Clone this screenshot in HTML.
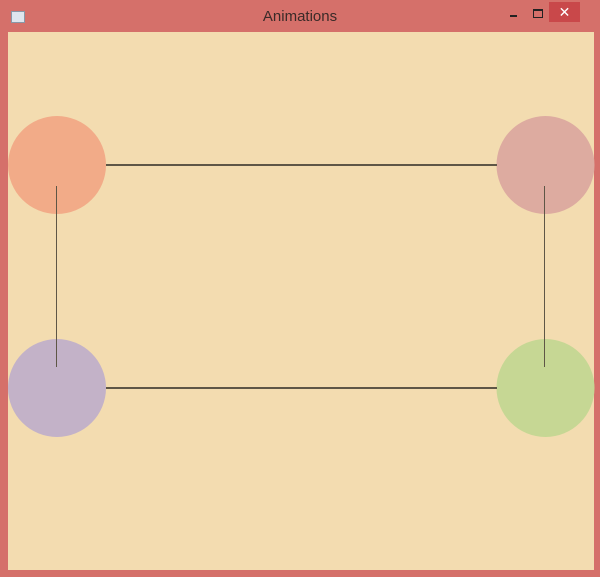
<!DOCTYPE html>
<html><head><style>
html,body{margin:0;padding:0;width:600px;height:577px;overflow:hidden;background:#d5706a;}
.t{position:absolute;left:0;top:0;width:600px;height:32px;text-align:center;font:15px "Liberation Sans",sans-serif;color:#3a2a28;line-height:34px;}
</style></head><body>
<div class="t">Animations</div>
<div style="position:absolute;left:11px;top:11px;width:12px;height:10px;background:#dfe6ee;border:1px solid #8898a8"></div>
<div style="position:absolute;left:510px;top:15px;width:7px;height:2px;background:#222"></div>
<div style="position:absolute;left:533px;top:9px;width:8px;height:6px;border:1px solid #222;border-top-width:2px"></div>
<div style="position:absolute;left:549px;top:2px;width:31px;height:20px;background:#c9484a;color:#fff;font:14px 'Liberation Sans',sans-serif;text-align:center;line-height:20px">✕</div>
<svg style="position:absolute;left:0;top:0" width="600" height="577">
<rect x="8" y="32" width="586" height="538" fill="#f3dcb0"/>
<circle cx="57" cy="165" r="49" fill="#f2ab88"/>
<circle cx="545.5" cy="165" r="49" fill="#ddaba0"/>
<circle cx="57" cy="388" r="49" fill="#c3b2c8"/>
<circle cx="545.5" cy="388" r="49" fill="#c6d794"/>
<g stroke="#5e5646">
<line x1="106" y1="165" x2="497" y2="165" stroke-width="2"/>
<line x1="106" y1="388" x2="497" y2="388" stroke-width="2"/>
<line x1="56.5" y1="186" x2="56.5" y2="367" stroke-width="1"/>
<line x1="544.5" y1="186" x2="544.5" y2="367" stroke-width="1"/>
</g>
</svg>
</body></html>
